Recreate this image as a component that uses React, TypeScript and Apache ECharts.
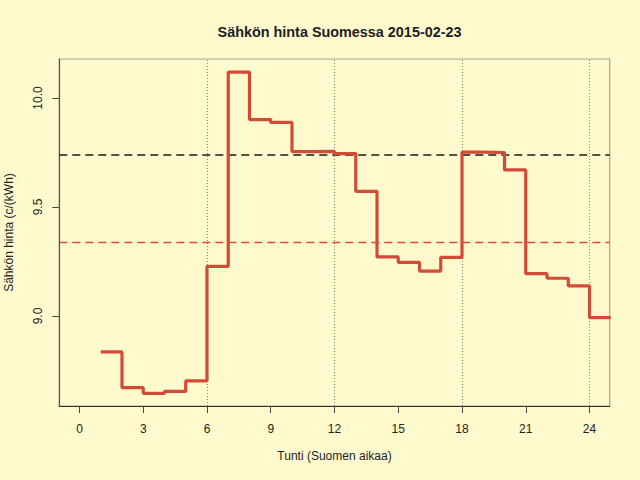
import React, { useEffect, useRef } from "react";
import * as echarts from "echarts";

const hours = [1, 2, 3, 4, 5, 6, 7, 8, 9, 10, 11, 12, 13, 14, 15, 16, 17, 18, 19, 20, 21, 22, 23, 24, 25];
const prices = [
  8.835, 8.671, 8.645, 8.654, 8.702, 9.228, 10.119, 9.901, 9.888, 9.754, 9.755, 9.745,
  9.572, 9.271, 9.246, 9.206, 9.269, 9.752, 9.75, 9.67, 9.194, 9.173, 9.138, 8.992, 8.992,
];
const refLevel = 9.744;
const meanLevel = 9.338;
const dayMarks = [6, 12, 18, 24];
const xTicks = [0, 3, 6, 9, 12, 15, 18, 21, 24];
const yTicks = [9, 9.5, 10];

const FONT = "'Liberation Sans', Arial, Helvetica, sans-serif";

export default function App() {
  const ref = useRef<HTMLDivElement>(null);
  useEffect(() => {
    document.body.style.margin = "0";
    const chart = echarts.init(ref.current!, null, { renderer: "svg" });
    chart.setOption({
      animation: false,
      backgroundColor: "#FFFACD",
      textStyle: { fontFamily: FONT },
      title: {
        text: "Sähkön hinta Suomessa 2015-02-23",
        left: 334.5,
        top: 20,
        textAlign: "center",
        textStyle: { fontFamily: FONT, fontSize: 14.4, fontWeight: "bold", color: "#221c26" },
      },
      grid: {
        left: 59.3,
        right: 30.3,
        top: 59,
        bottom: 74,
        show: true,
        borderColor: "#a9a290",
        borderWidth: 1.2,
        backgroundColor: "transparent",
        containLabel: false,
        outerBoundsMode: "none",
      },
      xAxis: {
        type: "value",
        min: -0.95,
        max: 24.95,
        name: "Tunti (Suomen aikaa)",
        nameLocation: "middle",
        nameGap: 44,
        nameTextStyle: { fontFamily: FONT, fontSize: 12, color: "#222" },
        axisLine: { show: true, onZero: false, lineStyle: { color: "#333", width: 1.2 } },
        axisTick: { show: true, length: 7, customValues: xTicks, lineStyle: { color: "#444" } },
        axisLabel: {
          customValues: xTicks,
          fontFamily: FONT,
          fontSize: 12,
          color: "#222",
          margin: 17,
        },
        splitLine: { show: false },
      },
      yAxis: {
        type: "value",
        min: 8.587,
        max: 10.179,
        name: "Sähkön hinta (c/(kWh)",
        nameLocation: "middle",
        nameGap: 44,
        nameRotate: 90,
        nameTextStyle: { fontFamily: FONT, fontSize: 12, color: "#222" },
        axisLine: { show: true, onZero: false, lineStyle: { color: "#555", width: 1.2 } },
        axisTick: { show: true, length: 7, customValues: yTicks, lineStyle: { color: "#444" } },
        axisLabel: {
          customValues: yTicks,
          rotate: 90,
          fontFamily: FONT,
          fontSize: 12,
          color: "#222",
          margin: 15,
          formatter: (v: number) => v.toFixed(1),
        },
        splitLine: { show: false },
      },
      series: [
        {
          type: "line",
          step: "end",
          data: hours.map((h, i) => [h, prices[i]]),
          symbol: "none",
          lineStyle: { color: "#D24B36", width: 3.2 },
          z: 5,
          markLine: {
            silent: true,
            symbol: ["none", "none"],
            label: { show: false },
            data: [
              { yAxis: refLevel, lineStyle: { color: "#1a1a1a", type: [8, 5], width: 1.5 } },
              { yAxis: meanLevel, lineStyle: { color: "#E8453C", type: [8, 5], width: 1.3 } },
              ...dayMarks.map((d) => ({
                xAxis: d,
                lineStyle: { color: "#6b6760", type: [1, 2], width: 0.8 },
              })),
            ],
          },
        },
      ],
    });
    return () => chart.dispose();
  }, []);
  return <div ref={ref} style={{ position: "absolute", left: 0, top: 0, width: 640, height: 480 }} />;
}
